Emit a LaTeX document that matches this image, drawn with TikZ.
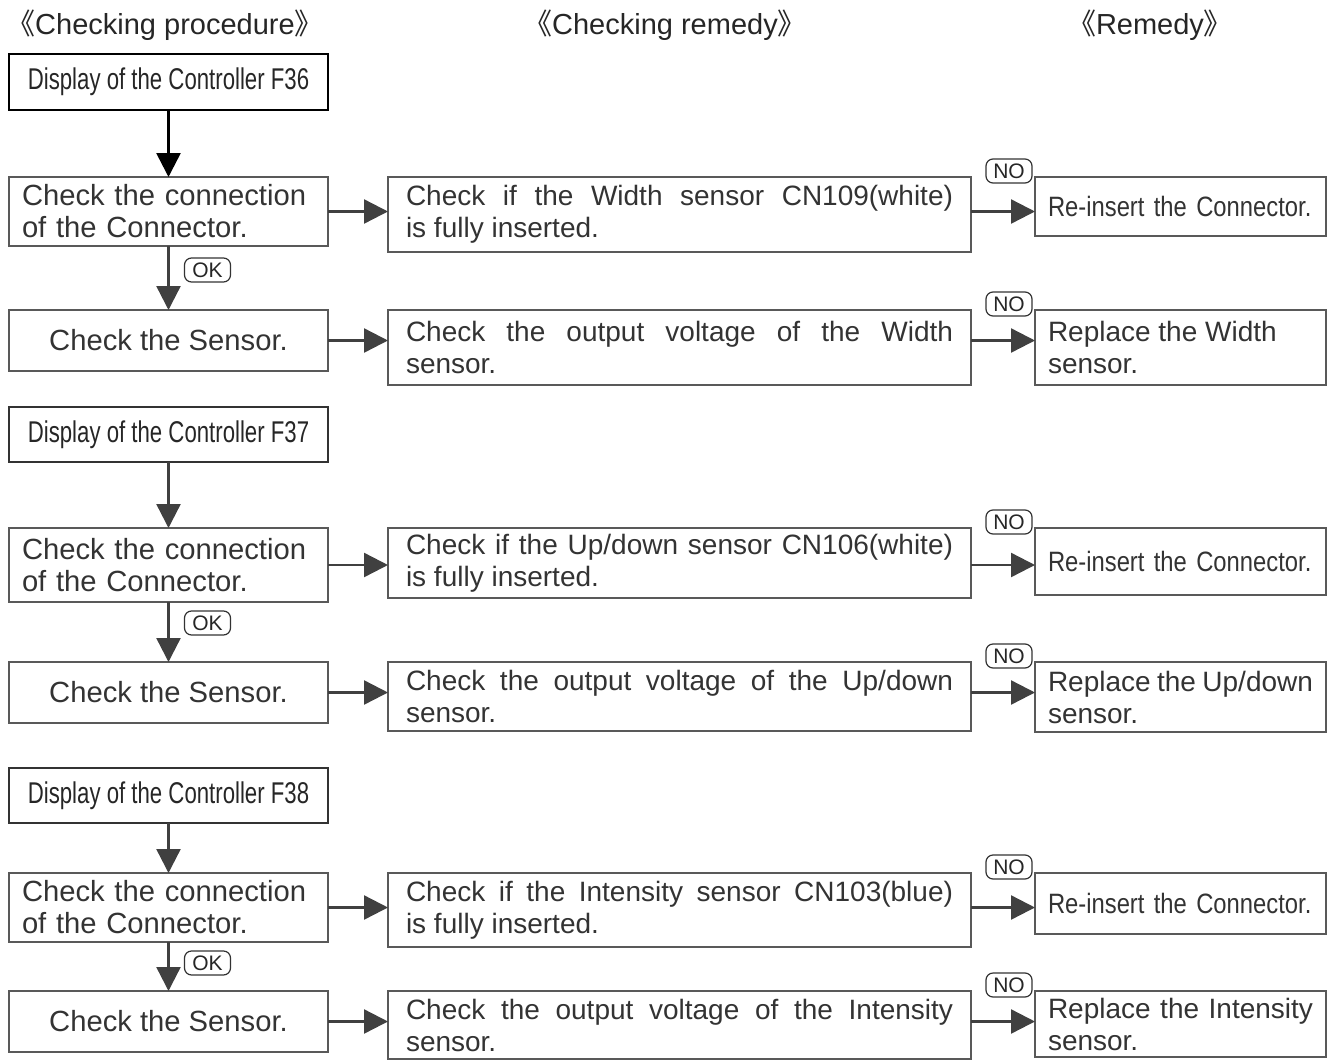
\documentclass[tikz,border=0pt]{standalone}
\usepackage{fontspec}
\setmainfont{Liberation Sans}
\newfontfamily\dispfont[FakeStretch=0.74]{Liberation Sans}
\newfontfamily\narrowfont[FakeStretch=0.85]{Liberation Sans}
\newfontfamily\cjk{Noto Sans CJK SC}
\usetikzlibrary{arrows.meta,positioning}
\definecolor{ink}{gray}{0.2}
\definecolor{frame}{gray}{0.35}
\tolerance=9999
\hbadness=10000
\hfuzz=3pt

\begin{document}
\begin{tikzpicture}[
    x=0.5pt, y=-0.5pt,
    >={Triangle[length=12pt, width=12pt]},
    head/.style={font=\fontsize{14.5pt}{17pt}\selectfont, text=black!85},
    dispbox/.style={rectangle, draw=black!80, line width=1.3pt, minimum width=159.5pt,
                    minimum height=27.5pt, inner sep=0pt, outer sep=0pt, text=black!85,
                    font=\dispfont\fontsize{15pt}{17pt}\selectfont},
    connbox/.style={rectangle, draw=frame, line width=0.8pt, text width=146.5pt,
                    inner xsep=6.5pt, inner ysep=1pt, outer sep=0pt, minimum height=35pt,
                    align=left, text=ink, font=\fontsize{14.6pt}{16pt}\selectfont},
    sensbox/.style={rectangle, draw=frame, line width=0.8pt, minimum width=159.5pt,
                    minimum height=30.5pt, inner sep=0pt, outer sep=0pt, text=ink,
                    font=\fontsize{14.6pt}{16pt}\selectfont},
    midbox/.style={rectangle, draw=frame, line width=0.8pt, text width=273.5pt,
                   inner xsep=9pt, inner ysep=1pt, outer sep=0pt, minimum height=37pt,
                   align=justify, text=ink, font=\fontsize{14pt}{16pt}\selectfont},
    fixbox/.style={rectangle, draw=frame, line width=0.8pt, text width=132.5pt,
                   inner xsep=6.5pt, inner ysep=1pt, outer sep=0pt, minimum height=30pt,
                   align=left, text=ink, font=\narrowfont\fontsize{14pt}{16pt}\selectfont},
    replbox/.style={rectangle, draw=frame, line width=0.8pt, text width=132.5pt,
                    inner xsep=6.5pt, inner ysep=1pt, outer sep=0pt, minimum height=37pt,
                    align=justify, text=ink, font=\fontsize{14pt}{16pt}\selectfont},
    tag/.style={rectangle, draw=black!80, line width=0.6pt, rounded corners=3.5pt,
                minimum width=23pt, minimum height=12pt, inner sep=0pt, outer sep=0pt,
                text=black!85, font=\fontsize{10.5pt}{12pt}\selectfont},
    arr/.style={->, line width=1.2pt, draw=black!75},
    lead/.style={->, line width=1.3pt, draw=black}
  ]
    \useasboundingbox (0,0) rectangle (1330,1061);

    %--- Column headers ---
    \node[head] (hproc)  at (165,25)  {{\cjk《}Checking procedure{\cjk》}};
    \node[head] (hcheck) at (665,25)  {{\cjk《}Checking remedy{\cjk》}};
    \node[head] (hrem)   at (1150,25) {{\cjk《}Remedy{\cjk》}};

    %--- F36 ---
    \node[dispbox, draw=black, minimum height=28pt] (disp1) at (168.5,82)
      {Display of the Controller F36};
    \node[connbox, below=33.5pt of disp1, minimum height=34.5pt] (conn1)
      {Check the connection\\of the Connector.};
    \node[sensbox, below=32pt of conn1] (sens1) {Check the Sensor.};
    \node[midbox, right=30pt of conn1.north east, anchor=north west,
          minimum height=37.5pt] (mid1)
      {Check if the Width sensor CN109(white)\linebreak is fully inserted.};
    \node[midbox, right=30pt of sens1.north east, anchor=north west,
          minimum height=37.5pt] (mid2)
      {Check the output voltage of the Width\linebreak sensor.};
    \node[fixbox, right=32pt of mid1.north east, anchor=north west,
          minimum height=29.5pt] (rem1) {Re-insert the Connector.};
    \node[replbox, right=32pt of mid2.north east, anchor=north west,
          minimum height=37.5pt] (rem2) {Replace the Width\\sensor.};

    %--- F37 ---
    \node[dispbox, below=18pt of sens1] (disp2) {Display of the Controller F37};
    \node[connbox, below=33pt of disp2, minimum height=37pt] (conn2)
      {Check the connection\\of the Connector.};
    \node[sensbox, below=30pt of conn2] (sens2) {Check the Sensor.};
    \node[midbox, right=30pt of conn2.north east, anchor=north west,
          minimum height=35pt] (mid3)
      {Check if the Up/down sensor CN106(white)\linebreak is fully inserted.};
    \node[midbox, right=30pt of sens2.north east, anchor=north west,
          minimum height=34.5pt] (mid4)
      {Check the output voltage of the Up/down\linebreak sensor.};
    \node[fixbox, right=32pt of mid3.north east, anchor=north west,
          minimum height=33.5pt] (rem3) {Re-insert the Connector.};
    \node[replbox, right=32pt of mid4.north east, anchor=north west,
          minimum height=35pt] (rem4) {Replace the Up/down\\sensor.};

    %--- F38 ---
    \node[dispbox, below=22.5pt of sens2] (disp3) {Display of the Controller F38};
    \node[connbox, below=25pt of disp3, minimum height=34.5pt] (conn3)
      {Check the connection\\of the Connector.};
    \node[sensbox, below=24.5pt of conn3] (sens3) {Check the Sensor.};
    \node[midbox, right=30pt of conn3.north east, anchor=north west] (mid5)
      {Check if the Intensity sensor CN103(blue)\linebreak is fully inserted.};
    \node[midbox, right=30pt of sens3.north east, anchor=north west,
          minimum height=34pt] (mid6)
      {Check the output voltage of the Intensity\linebreak sensor.};
    \node[fixbox, right=32pt of mid5.north east, anchor=north west,
          minimum height=30.5pt] (rem5) {Re-insert the Connector.};
    \node[replbox, right=32pt of mid6.north east, anchor=north west,
          minimum height=33pt] (rem6) {Replace the Intensity\linebreak sensor.};

    %--- OK / NO tags ---
    \node[tag, below right=6pt and 8pt of conn1.south] (ok1) {OK};
    \node[tag, below right=4.5pt and 8pt of conn2.south] (ok2) {OK};
    \node[tag, below right=4.5pt and 8pt of conn3.south] (ok3) {OK};
    \node[tag, above left=-3pt and 1.5pt of rem1.north west] (no1) {NO};
    \node[tag, above left=-3pt and 1.5pt of rem2.north west] (no2) {NO};
    \node[tag, above left=-3pt and 1.5pt of rem3.north west] (no3) {NO};
    \node[tag, above left=-3pt and 1.5pt of rem4.north west] (no4) {NO};
    \node[tag, above left=-3pt and 1.5pt of rem5.north west] (no5) {NO};
    \node[tag, above left=-3pt and 1.5pt of rem6.north west] (no6) {NO};

    %--- Down arrows ---
    \draw[lead] (disp1) -- (conn1);
    \draw[arr]  (conn1) -- (sens1);
    \draw[arr]  (disp2) -- (conn2);
    \draw[arr]  (conn2) -- (sens2);
    \draw[arr]  (disp3) -- (conn3);
    \draw[arr]  (conn3) -- (sens3);

    %--- Right arrows ---
    \draw[arr] (conn1.east) -- (conn1.east -| mid1.west);
    \draw[arr] (sens1.east) -- (sens1.east -| mid2.west);
    \draw[arr] (conn2.east) -- (conn2.east -| mid3.west);
    \draw[arr] (sens2.east) -- (sens2.east -| mid4.west);
    \draw[arr] (conn3.east) -- (conn3.east -| mid5.west);
    \draw[arr] (sens3.east) -- (sens3.east -| mid6.west);
    \draw[arr] (mid1.east |- conn1.east) -- (rem1.west |- conn1.east);
    \draw[arr] (mid2.east |- sens1.east) -- (rem2.west |- sens1.east);
    \draw[arr] (mid3.east |- conn2.east) -- (rem3.west |- conn2.east);
    \draw[arr] (mid4.east |- sens2.east) -- (rem4.west |- sens2.east);
    \draw[arr] (mid5.east |- conn3.east) -- (rem5.west |- conn3.east);
    \draw[arr] (mid6.east |- sens3.east) -- (rem6.west |- sens3.east);
  \end{tikzpicture}
\end{document}
